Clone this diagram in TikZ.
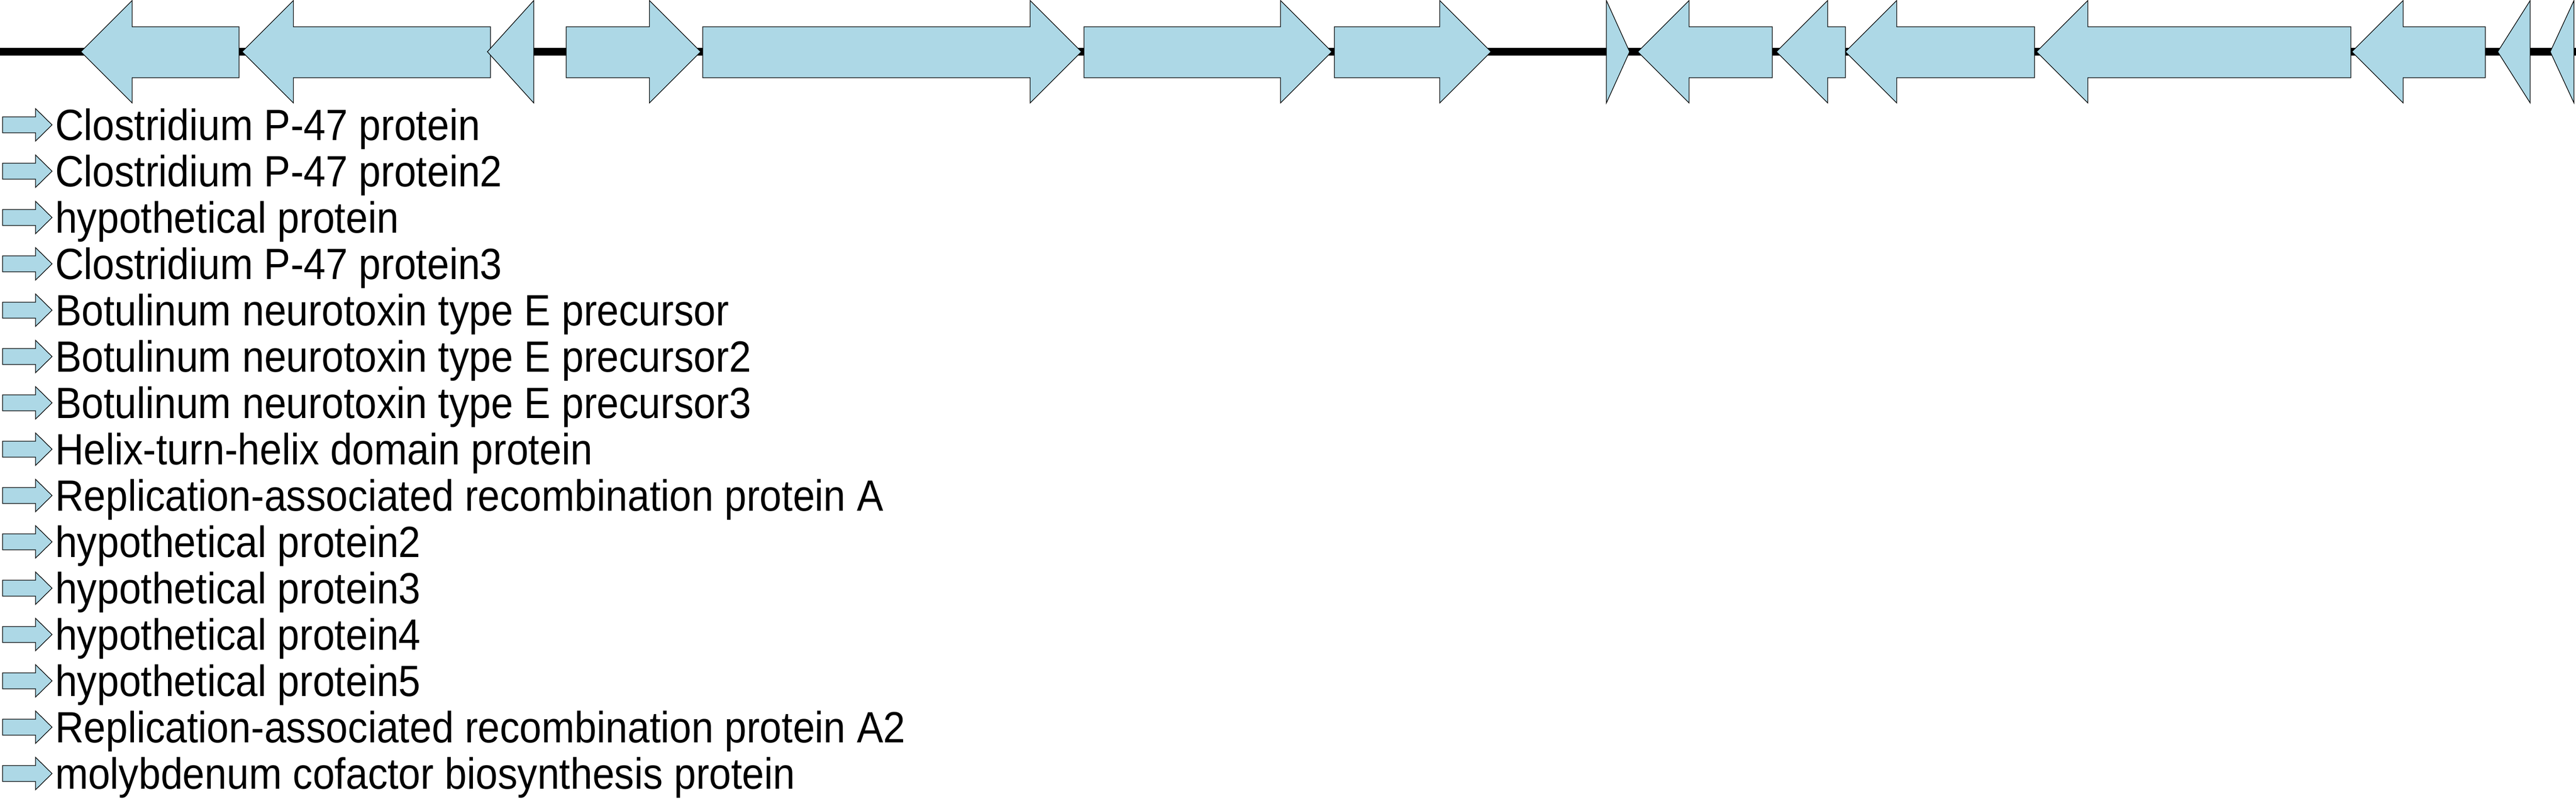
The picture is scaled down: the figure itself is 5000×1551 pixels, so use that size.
\documentclass[tikz,border=0pt]{standalone}
\usepackage{fontspec}
\setmainfont{Liberation Sans}[FakeStretch=0.905]
\definecolor{genefill}{RGB}{173,216,230}
\tikzset{
  genearrow/.style={fill=genefill,draw=black,line width=0.25pt,line join=miter},
  backbone/.style={line width=2.87pt,draw=black},
  legendtext/.style={anchor=base west,inner sep=0pt,font=\fontsize{17pt}{20pt}\selectfont}
}
% right-pointing gene: tail, tip
\newcommand\geneR[2]{%
  \pgfmathsetmacro\hb{max(#1,#2-99.5)}%
  \path[genearrow] (#1,52) -- (\hb,52) -- (\hb,1) -- (#2,100.5) -- (\hb,200) -- (\hb,151) -- (#1,151) -- cycle;}
% left-pointing gene: tip, tail
\newcommand\geneL[2]{%
  \pgfmathsetmacro\hb{min(#2,#1+99.5)}%
  \path[genearrow] (#2,52) -- (\hb,52) -- (\hb,1) -- (#1,100.5) -- (\hb,200) -- (\hb,151) -- (#2,151) -- cycle;}
\begin{document}
\begin{tikzpicture}[x=0.2pt,y=-0.2pt]
\useasboundingbox (0,0) rectangle (5000,1551);
\draw[backbone] (0,100.5) -- (5000,100.5);
\geneL{157}{464}
\geneL{470}{952}
\geneL{946}{1036}
\geneR{1099}{1360}
\geneR{1364}{2099}
\geneR{2104}{2585}
\geneR{2590}{2894}
\geneR{3118}{3163}
\geneL{3179}{3440}
\geneL{3448}{3582}
\geneL{3582}{3949}
\geneL{3953}{4563}
\geneL{4565}{4824}
\geneL{4848}{4911}
\geneL{4950}{4996}
\foreach \t [count=\i from 0] in {Clostridium P-47 protein,Clostridium P-47 protein2,hypothetical protein,Clostridium P-47 protein3,Botulinum neurotoxin type E precursor,Botulinum neurotoxin type E precursor2,Botulinum neurotoxin type E precursor3,Helix-turn-helix domain protein,Replication-associated recombination protein A,hypothetical protein2,hypothetical protein3,hypothetical protein4,hypothetical protein5,Replication-associated recombination protein A2,molybdenum cofactor biosynthesis protein}{
  \pgfmathsetmacro\ty{242.5+90*\i}
  \path[genearrow] (5,\ty-15.5) -- (69,\ty-15.5) -- (69,\ty-31.5) -- (101,\ty) -- (69,\ty+31.5) -- (69,\ty+15.5) -- (5,\ty+15.5) -- cycle;
  \node[legendtext] (lab\i) at (106,\ty+30) {\t};
}
\end{tikzpicture}
\end{document}
